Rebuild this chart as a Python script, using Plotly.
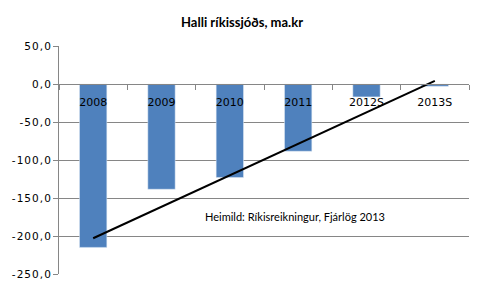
import plotly.graph_objects as go

categories = ["2008", "2009", "2010", "2011", "2012S", "2013S"]
values = [-215.0, -138.5, -123.0, -88.5, -17.0, -3.0]
trend_x = ["2008", "2013S"]
trend_y = [-203.0, 4.0]
ytick_vals = [50, 0, -50, -100, -150, -200, -250]
ytick_text = ["50,0", "0,0", "-50,0", "-100,0", "-150,0", "-200,0", "-250,0"]
title_text = "Halli ríkissjóðs, ma.kr"
source_text = "Heimild: Ríkisreikningur, Fjárlög 2013"

HS = "\u200a"
def spaced(s):
    return HS.join(s)

ymin, ymax = -250, 50

fig = go.Figure()
fig.add_trace(go.Bar(x=categories, y=values, marker_color="#4F81BD",
                     width=0.4, showlegend=False, hoverinfo="skip"))
fig.add_trace(go.Scatter(x=trend_x, y=trend_y, mode="lines",
                         line=dict(color="black", width=2), showlegend=False))

fig.add_shape(type="rect", xref="paper", yref="y", x0=0.3325, x1=0.876,
              y0=-218, y1=-152, fillcolor="white", line_width=0, layer="between")
fig.add_annotation(xref="paper", yref="y", x=0.350, y=-174, xanchor="left",
                   yanchor="middle", text=source_text, showarrow=False,
                   font=dict(family="Lato", size=11, color="black"))

fig.update_layout(
    width=484, height=292,
    margin=dict(l=57, r=15, t=46, b=17),
    paper_bgcolor="white", plot_bgcolor="white",
    title=dict(text="<b>" + title_text + "</b>", x=0.5, xanchor="center",
               y=1 - 22 / 292, yanchor="middle",
               font=dict(family="Lato", size=13, color="black")),
    bargap=0.6,
    xaxis=dict(type="category", range=[-0.5, 5.5], anchor="free",
               position=(0 - ymin) / (ymax - ymin),
               showline=True, linecolor="#868686", linewidth=1,
               ticks="outside", ticklen=5, tickcolor="#868686",
               tickson="boundaries", showgrid=False, ticklabelstandoff=8,
               tickfont=dict(family="DejaVu Sans", size=11, color="black")),
    yaxis=dict(range=[ymin, ymax], tickvals=ytick_vals,
               ticktext=[spaced(t) for t in ytick_text],
               showline=True, linecolor="#868686", linewidth=1,
               ticks="outside", ticklen=5, tickcolor="#868686",
               showgrid=True, gridcolor="#868686", gridwidth=1,
               zeroline=False,
               tickfont=dict(family="DejaVu Sans", size=10.5, color="black")),
)

fig.write_html("out.html")
